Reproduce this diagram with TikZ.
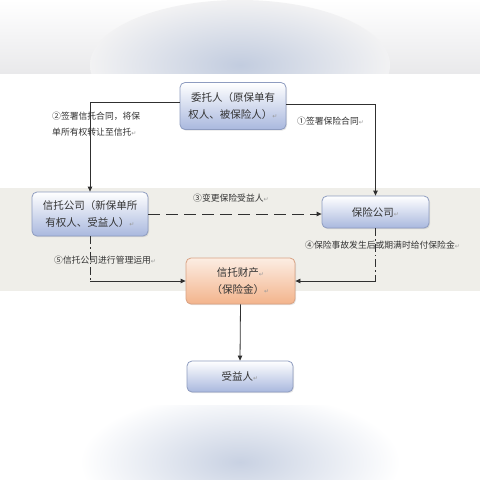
\documentclass[tikz,border=0pt]{standalone}
\usepackage{fontspec}
\setmainfont{Noto Sans CJK SC}
\newfontfamily\symfont{DejaVu Sans}
\usetikzlibrary{arrows.meta,shadows}
\definecolor{boxedge}{HTML}{8E9CC0}
\definecolor{boxblue}{HTML}{A9B8DE}
\definecolor{orangeedge}{HTML}{D9A283}
\definecolor{boxorange}{HTML}{F3B48C}
\definecolor{boxorangetop}{HTML}{FCEDE3}
\definecolor{bandgray}{HTML}{EFEEE9}
\definecolor{topgray}{HTML}{E9E9EB}
\definecolor{blurblue}{HTML}{C2CCDF}
\definecolor{linecol}{HTML}{303030}
\definecolor{textcol}{HTML}{333333}
\newcommand{\parmk}{{\symfont\fontsize{6}{6}\selectfont\color{gray!80}↵}}
\tikzset{
  bluebox/.style={draw=boxedge, line width=0.8pt, rounded corners=5pt,
    top color=white, bottom color=boxblue, align=center, text=textcol,
    font=\fontsize{10.5}{17}\selectfont, inner sep=2pt,
    drop shadow={opacity=0.2, shadow xshift=1pt, shadow yshift=-1.2pt}},
  orangebox/.style={bluebox, draw=orangeedge, top color=boxorangetop, bottom color=boxorange},
  lbl/.style={font=\fontsize{8.8}{16}\selectfont, text=textcol, align=left, inner sep=0pt},
  conn/.style={draw=linecol, line width=0.8pt, -{Triangle[length=5pt,width=4.5pt]}},
  plain/.style={draw=linecol, line width=0.8pt},
}
\begin{document}
\begin{tikzpicture}[x=1pt,y=-1pt]
\useasboundingbox (0,0) rectangle (480,480);
% background
\fill[white] (0,0) rectangle (480,480);
\shade[top color=white, bottom color=topgray] (0,0) rectangle (480,73);
\begin{scope}
  \clip (0,0) rectangle (480,73);
  \shade[inner color=blurblue, outer color=topgray!60] (240,65) ellipse [x radius=150pt, y radius=65pt];
\end{scope}
\begin{scope}
  \clip (0,405) rectangle (480,480);
  \shade[inner color=blurblue!90, outer color=white] (240,462) ellipse [x radius=160pt, y radius=70pt];
\end{scope}
\fill[bandgray] (0,188) rectangle (480,291);

% nodes
\node[bluebox, minimum width=106pt, minimum height=47pt] (A) at (233,106) {委托人（原保单有\\权人、被保险人）\parmk};
\node[bluebox, minimum width=116pt, minimum height=44pt] (B) at (90,214) {信托公司（新保单所\\有权人、受益人）\parmk};
\node[bluebox, minimum width=107pt, minimum height=32pt] (C) at (375.5,212) {保险公司\parmk};
\node[orangebox, minimum width=109pt, minimum height=46pt] (D) at (240.5,281) {信托财产\parmk\\（保险金）\parmk};
\node[bluebox, minimum width=106pt, minimum height=31pt] (E) at (240,376.5) {受益人\parmk};

% connectors
\draw[conn] ([yshift=4pt]A.west) -| (B.north);
\draw[conn] ([yshift=2pt]A.east) -| (C.north);
\draw[conn, dash pattern=on 12pt off 6pt] (B.east) -- (B.east -| C.west);
\coordinate (bl) at (B.south |- D.west);
\coordinate (br) at (C.south |- D.east);
\draw[plain, dash pattern=on 8pt off 3pt on 1.5pt off 3pt] (B.south) -- (bl);
\draw[conn] (bl) -- (D.west);
\draw[plain, dash pattern=on 8pt off 3pt on 1.5pt off 3pt] (C.south) -- (br);
\draw[conn] (br) -- (D.east);
\draw[conn] (D.south) -- (E.north);

% labels
\node[lbl, anchor=west] (l2) at (52,124) {②签署信托合同，将保\\单所有权转让至信托\parmk};
\node[lbl, anchor=west] (l1) at (297,121) {①签署保险合同\parmk};
\node[lbl, anchor=west] (l3) at (193,198) {③变更保险受益人\parmk};
\node[lbl, anchor=west] (l4) at (305,245) {④保险事故发生后或期满时给付保险金\parmk};
\node[lbl, anchor=west] (l5) at (54,260) {⑤信托公司进行管理运用\parmk};
\end{tikzpicture}
\end{document}
